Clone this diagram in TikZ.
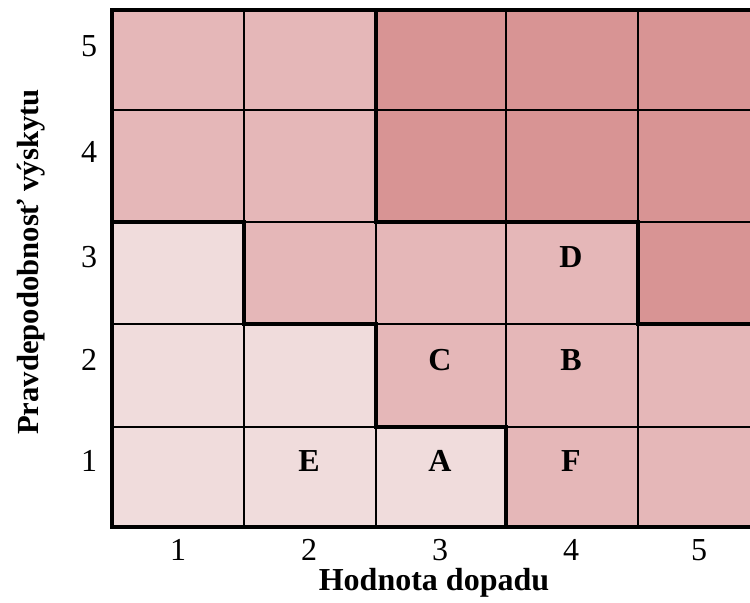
\documentclass[tikz,border=0pt]{standalone}
\usepackage{fontspec}
\setmainfont{Liberation Serif}
\definecolor{nizke}{HTML}{F0DCDC}
\definecolor{stredne}{HTML}{E5B7B8}
\definecolor{vysoke}{HTML}{D89494}
\tikzset{%
    mriezka/.style={black,line width=1.5pt},
    hranica/.style={black,line width=3pt,line join=miter},
    cislo/.style={font=\fontsize{24}{28}\selectfont,inner sep=0pt},
    riziko/.style={font=\fontsize{24}{28}\selectfont\bfseries,inner sep=0pt},
    os/.style={font=\fontsize{24}{28}\selectfont\bfseries,inner sep=0pt,anchor=base},
}

\begin{document}
\begin{tikzpicture}[x=0.75pt,y=-0.75pt]
            \clip (0,0) rectangle (750,603);

            %pásma
            \fill[stredne] (112,10) rectangle (770,527);
            \fill[nizke] (112,527) -- (112,222) -- (244,222) -- (244,324) -- (376,324)
                -- (376,427) -- (506,427) -- (506,527) -- cycle;
            \fill[vysoke] (376,10) -- (770,10) -- (770,324) -- (638,324) -- (638,222)
                -- (376,222) -- cycle;

            %mriežka
            \draw[mriezka] (244,10) -- (244,527);
            \draw[mriezka] (376,10) -- (376,527);
            \draw[mriezka] (506,10) -- (506,527);
            \draw[mriezka] (638,10) -- (638,527);
            \draw[mriezka] (112,110) -- (770,110);
            \draw[mriezka] (112,222) -- (770,222);
            \draw[mriezka] (112,324) -- (770,324);
            \draw[mriezka] (112,427) -- (770,427);

            %hranice pásiem
            \draw[hranica] (112,222) -- (244,222) -- (244,324) -- (376,324)
                -- (376,427) -- (506,427) -- (506,527);
            \draw[hranica] (376,10) -- (376,222) -- (638,222) -- (638,324) -- (770,324);
            \draw[hranica] (112,10) rectangle (770,527);

            %pravdepodobnosť
            \node[cislo] (p5) at (89,46) {5};
            \node[cislo] (p4) at (89,152) {4};
            \node[cislo] (p3) at (89,257) {3};
            \node[cislo] (p2) at (89,360) {2};
            \node[cislo] (p1) at (89,461) {1};

            %dopad
            \node[cislo] (d1) at (178,550) {1};
            \node[cislo] (d2) at (309,550) {2};
            \node[cislo] (d3) at (440,550) {3};
            \node[cislo] (d4) at (571,550) {4};
            \node[cislo] (d5) at (699,550) {5};

            %riziká
            \node[riziko] (rA) at (440,461) {A};
            \node[riziko] (rB) at (571,360) {B};
            \node[riziko] (rC) at (440,360) {C};
            \node[riziko] (rD) at (571,257) {D};
            \node[riziko] (rE) at (309,461) {E};
            \node[riziko] (rF) at (571,461) {F};

            %osi
            \node[os] (osx) at (434,590) {Hodnota dopadu};
            \node[os,rotate=90,font=\fontsize{23}{27}\selectfont\bfseries] (osy) at (38,262) {Pravdepodobnosť výskytu};
        \end{tikzpicture}
\end{document}
